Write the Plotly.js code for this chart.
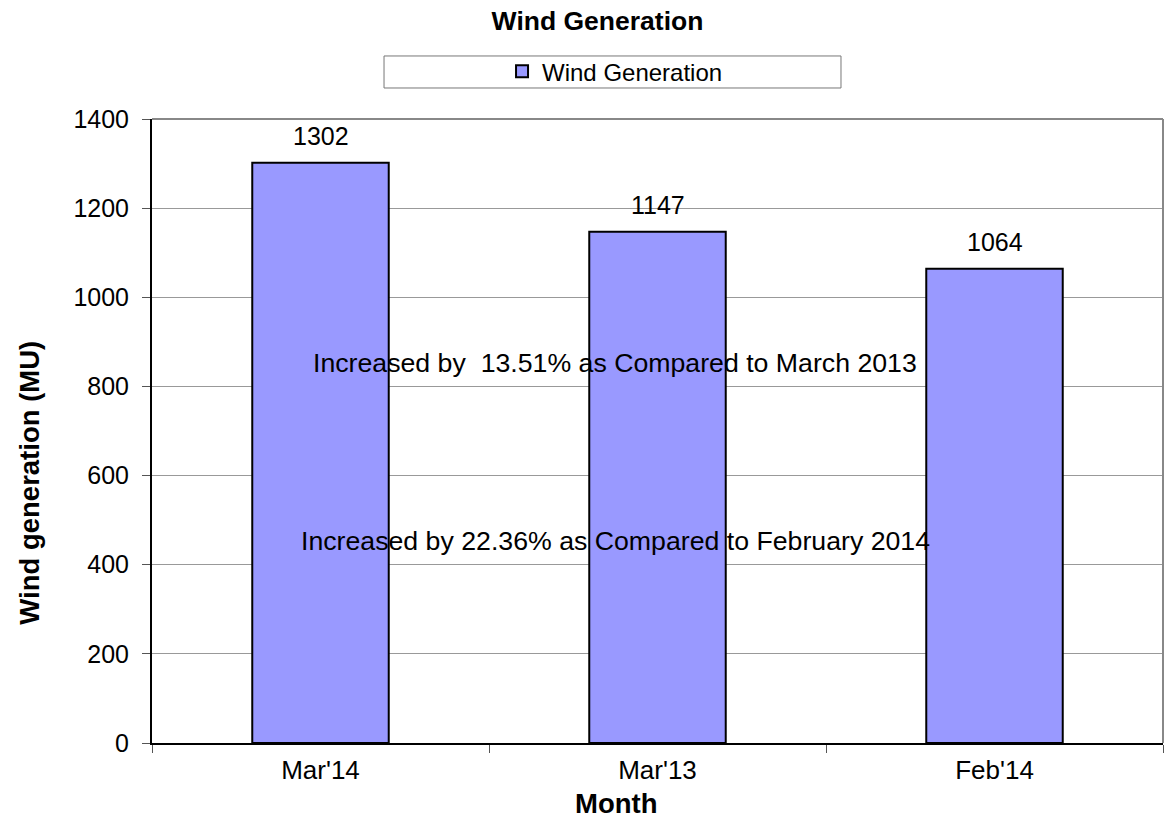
<!DOCTYPE html>
<html><head><meta charset="utf-8">
<script src="https://cdn.plot.ly/plotly-3.0.1.min.js"></script>
<style>body{margin:0;background:#fff}#chart{width:1167px;height:819px}</style>
</head><body><div id="chart"></div>
<script>
var months = ["Mar'14", "Mar'13", "Feb'14"];
var windGen = [1302, 1147, 1064];
var seriesName = "Wind Generation";
var notes = ["Increased by  13.51% as Compared to March 2013", "Increased by 22.36% as Compared to February 2014"];
var noteY = [852, 453];
var yTicks = [0, 200, 400, 600, 800, 1000, 1200, 1400];

var font = "Liberation Sans, Arial, sans-serif";
var trace = {
  type: "bar", x: months, y: windGen, name: seriesName,
  width: 0.405,
  marker: {color: "#9999ff", line: {color: "#000", width: 2}},
  hoverinfo: "x+y"
};
var ann = notes.map(function(t, i){
  return {text: t, xref: "paper", yref: "y", x: 0.458, y: noteY[i], showarrow: false, xanchor: "center", yanchor: "middle", font: {size: 26.7, family: font, color: "#000"}};
});
windGen.forEach(function(v, i){
  ann.push({text: String(v), xref: "x", yref: "y", x: months[i], y: v, yanchor: "bottom", xanchor: "center", yshift: 11, showarrow: false, font: {size: 25, family: font, color: "#000"}});
});
ann.push({text: "<b>Wind generation (MU)</b>", xref: "paper", yref: "paper", x: -0.121, y: 0.4167, textangle: -90, showarrow: false, xanchor: "center", yanchor: "middle", font: {size: 27.5, family: font, color: "#000"}});
ann.push({text: "<b>Month</b>", xref: "paper", yref: "paper", x: 0.459, y: -0.097, showarrow: false, xanchor: "center", yanchor: "middle", font: {size: 27.5, family: font, color: "#000"}});

var layout = {
  width: 1167, height: 819,
  margin: {l: 152, r: 4, t: 119, b: 76},
  paper_bgcolor: "#fff", plot_bgcolor: "#fff",
  font: {family: font, color: "#000"},
  title: {text: "<b>Wind Generation</b>", font: {size: 26.5, family: font}, x: 0.512, xanchor: "center", y: 0.975, yanchor: "middle"},
  showlegend: true,
  legend: {orientation: "h", x: 0.458, xanchor: "center", y: 1.076, yanchor: "middle", font: {size: 24, family: font}, bgcolor: "rgba(0,0,0,0)", borderwidth: 0, itemwidth: 30},
  xaxis: {
    type: "category", tickson: "boundaries", ticks: "outside", ticklen: 8, tickcolor: "#555",
    showline: true, linecolor: "#000", linewidth: 2, mirror: false,
    tickfont: {size: 26, family: font}, showgrid: false, ticklabelstandoff: 3
  },
  yaxis: {
    range: [0, 1400], tickvals: yTicks, ticks: "outside", ticklen: 8, tickcolor: "#555",
    showline: true, linecolor: "#000", linewidth: 2,
    gridcolor: "#999999", gridwidth: 1, zeroline: false,
    tickfont: {size: 25, family: font}, ticklabelstandoff: 8
  },
  shapes: [
    {type: "rect", xref: "paper", yref: "paper", x0: 0.2295, x1: 0.6815, y0: 1.0497, y1: 1.101, line: {color: "#777", width: 1}, fillcolor: "rgba(0,0,0,0)"},
    {type: "line", xref: "paper", yref: "paper", x0: 1, x1: 1, y0: 0, y1: 1, line: {color: "#888", width: 2}},
    {type: "line", xref: "paper", yref: "paper", x0: 0, x1: 1, y0: 1, y1: 1, line: {color: "#888", width: 2}}
  ],
  annotations: ann
};
Plotly.newPlot("chart", [trace], layout, {displayModeBar: false});
</script></body></html>
